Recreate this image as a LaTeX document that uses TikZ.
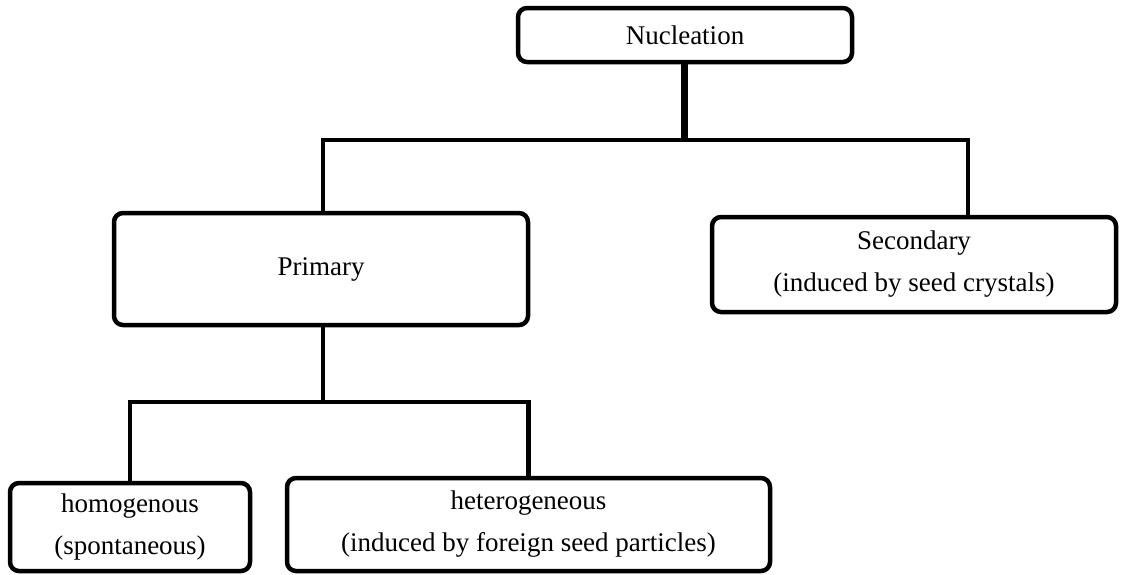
\documentclass[tikz,border=0pt]{standalone}
\usepackage{fontspec}
\setmainfont{Liberation Serif}
\begin{document}
\begin{tikzpicture}[x=1pt,y=-1pt,
  box/.style={draw, line width=4.5pt, rounded corners=9pt, inner sep=0pt, align=center,
    font=\fontsize{27}{42}\selectfont},
  conn/.style={line width=4.5pt},
  thickstem/.style={line width=7pt}]
\useasboundingbox (0,0) rectangle (1125,574);
\node[box, minimum width=334pt, minimum height=54pt] (nuc) at (685,35) {Nucleation};
\node[box, minimum width=414pt, minimum height=112pt] (prim) at (321,269) {Primary};
\node[box, minimum width=404pt, minimum height=95pt] (sec) at (914,264.5) {Secondary\\(induced by seed crystals)};
\node[box, minimum width=240pt, minimum height=88pt] (homo) at (130,527) {homogenous\\(spontaneous)};
\node[box, minimum width=483pt, minimum height=93pt] (hetero) at (528.5,524.5) {heterogeneous\\(induced by foreign seed particles)};
\coordinate (j1) at (684,140);
\coordinate (j2) at (323,402);
\coordinate (s2) at (968,217);
\draw[thickstem] (nuc.south -| j1) -- (j1);
\draw[conn] (prim.north -| j2) |- (j1) -| (s2);
\draw[conn] (prim.south -| j2) -- (j2);
\draw[conn] (homo.north) |- (j2) -| (hetero.north);
\end{tikzpicture}
\end{document}
